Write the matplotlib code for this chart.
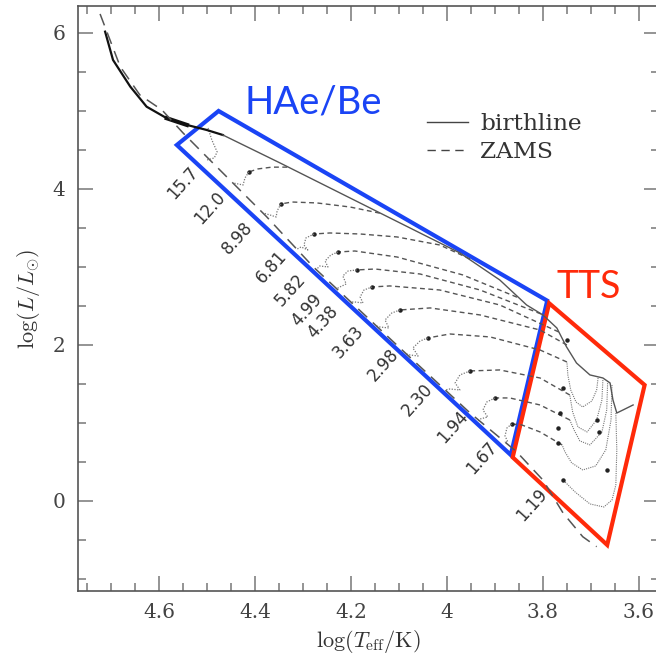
import numpy as np
import matplotlib.pyplot as plt
from matplotlib.ticker import MultipleLocator

plt.rcParams['mathtext.fontset'] = 'cm'

# birthline and ZAMS (log Teff, log L)
birth_T = [4.7125, 4.696, 4.660, 4.626, 4.584, 4.542, 4.501, 4.467, 4.348, 4.140,
           3.973, 3.890, 3.834, 3.800, 3.771, 3.751, 3.730, 3.702, 3.675, 3.660,
           3.654, 3.646, 3.633, 3.612]
birth_L = [6.013, 5.65, 5.308, 5.051, 4.903, 4.817, 4.753, 4.688, 4.33, 3.69,
           3.176, 2.83, 2.509, 2.381, 2.214, 1.974, 1.765, 1.612, 1.573, 1.509,
           1.291, 1.124, 1.163, 1.227]
zams_T = [4.723, 4.681, 4.640, 4.594, 4.550, 4.501, 4.376, 4.279, 4.098, 3.952,
          3.855, 3.800, 3.758, 3.717, 3.688]
zams_L = [6.24, 5.564, 5.201, 5.009, 4.714, 4.41, 3.641, 3.0, 1.958, 1.125,
          0.628, 0.265, -0.158, -0.462, -0.590]

masses = ['15.7', '12.0', '8.98', '6.81', '5.82', '4.99', '4.38', '3.63',
          '2.98', '2.30', '1.94', '1.67', '1.19']
label_T = [4.55, 4.494, 4.4375, 4.365, 4.327, 4.292, 4.258, 4.206,
           4.133, 4.0625, 3.9875, 3.927, 3.823]
label_L = [4.073, 3.753, 3.368, 2.996, 2.701, 2.445, 2.291, 2.035,
           1.740, 1.291, 0.945, 0.548, -0.055]

# convective (Hayashi) part, dotted
hay_T = [[], [], [], [], [], [], [], [],
         [3.685, 3.688, 3.698, 3.717, 3.731, 3.742, 3.748, 3.750],
         [3.675, 3.677, 3.688, 3.708, 3.727, 3.738, 3.744],
         [3.665, 3.667, 3.677, 3.702, 3.723, 3.735, 3.744],
         [3.656, 3.658, 3.669, 3.690, 3.717, 3.740, 3.754, 3.760],
         [3.648, 3.646, 3.648, 3.656, 3.673, 3.702, 3.733, 3.758]]
hay_L = [[], [], [], [], [], [], [], [],
         [1.573, 1.419, 1.278, 1.201, 1.265, 1.419, 1.611, 1.778],
         [1.547, 1.291, 1.035, 0.881, 0.945, 1.137, 1.355],
         [1.535, 1.163, 0.881, 0.715, 0.766, 0.906, 1.035],
         [1.483, 1.035, 0.651, 0.445, 0.394, 0.484, 0.625, 0.715],
         [1.124, 0.650, 0.201, 0.009, -0.081, -0.042, 0.112, 0.265]]
# radiative (Henyey) part, dashed
hen_T = [[],
         [4.333, 4.365, 4.394, 4.413],
         [4.140, 4.202, 4.271, 4.323, 4.346],
         [3.952, 4.015, 4.104, 4.181, 4.244, 4.277],
         [3.854, 3.967, 4.104, 4.192, 4.227],
         [3.804, 3.931, 4.056, 4.150, 4.188],
         [3.767, 3.890, 4.015, 4.119, 4.156],
         [3.750, 3.806, 3.931, 4.035, 4.098],
         [3.750, 3.806, 3.910, 3.994, 4.040],
         [3.744, 3.806, 3.890, 3.952],
         [3.744, 3.806, 3.869, 3.900],
         [3.760, 3.806, 3.844, 3.865],
         []]
hen_L = [[],
         [4.276, 4.276, 4.253, 4.214],
         [3.686, 3.765, 3.817, 3.829, 3.804],
         [3.099, 3.278, 3.381, 3.419, 3.432, 3.419],
         [2.609, 2.894, 3.124, 3.201, 3.188],
         [2.394, 2.701, 2.906, 2.970, 2.958],
         [2.163, 2.509, 2.701, 2.753, 2.740],
         [1.996, 2.188, 2.381, 2.471, 2.445],
         [1.778, 1.932, 2.099, 2.137, 2.086],
         [1.355, 1.573, 1.676, 1.663],
         [1.035, 1.227, 1.317, 1.317],
         [0.715, 0.881, 0.971, 0.983],
         []]
# hook onto the ZAMS, dotted
hook_T = [[4.498, 4.490, 4.479, 4.485, 4.500],
          [4.413, 4.421, 4.425, 4.435, 4.446],
          [4.346, 4.354, 4.356, 4.369, 4.383],
          [4.277, 4.294, 4.298, 4.290, 4.304, 4.312],
          [4.227, 4.242, 4.254, 4.248, 4.265, 4.273],
          [4.188, 4.206, 4.217, 4.210, 4.223, 4.231],
          [4.156, 4.173, 4.181, 4.175, 4.192, 4.200],
          [4.098, 4.115, 4.129, 4.121, 4.140, 4.148],
          [4.040, 4.056, 4.071, 4.060, 4.077, 4.085],
          [3.952, 3.973, 3.983, 3.973, 3.994, 4.004],
          [3.900, 3.917, 3.925, 3.915, 3.931, 3.935],
          [3.865, 3.875, 3.879, 3.873, 3.881],
          []]
hook_L = [[4.778, 4.624, 4.471, 4.394, 4.368],
          [4.214, 4.137, 4.047, 4.060, 4.073],
          [3.804, 3.714, 3.637, 3.663, 3.688],
          [3.419, 3.368, 3.278, 3.214, 3.253, 3.227],
          [3.188, 3.150, 3.073, 2.996, 3.009, 2.958],
          [2.958, 2.945, 2.881, 2.778, 2.740, 2.714],
          [2.740, 2.701, 2.612, 2.535, 2.547, 2.547],
          [2.445, 2.406, 2.317, 2.214, 2.227, 2.240],
          [2.086, 2.047, 1.958, 1.855, 1.868, 1.881],
          [1.663, 1.612, 1.509, 1.419, 1.432, 1.419],
          [1.317, 1.265, 1.163, 1.073, 1.047, 1.022],
          [0.983, 0.932, 0.830, 0.753, 0.753],
          []]
# isochrone dots in the T Tauri region
dot_T = [3.750, 3.758, 3.765, 3.769, 3.769, 3.758, 3.688, 3.683, 3.667]
dot_L = [2.06, 1.445, 1.124, 0.932, 0.740, 0.265, 1.035, 0.881, 0.394]

# regions
haebe_T = [4.563, 4.476, 3.791, 3.867]
haebe_L = [4.560, 4.996, 2.564, 0.586]
tts_T = [3.787, 3.588, 3.666, 3.863]
tts_L = [2.531, 1.483, -0.568, 0.556]

fig = plt.figure(figsize=(6.56, 6.59), dpi=100)
ax = fig.add_axes([0.1189, 0.1032, 0.8857, 0.8877])

grey = '#555555'
for i in range(len(masses)):
    if hay_T[i]:
        ax.plot(hay_T[i], hay_L[i], color='#777777', lw=0.8, ls=(0, (1, 1)))
    if hen_T[i]:
        ax.plot(hen_T[i], hen_L[i], color=grey, lw=1.0, ls=(0, (3.5, 2.5)))
        ax.plot(hen_T[i][-1], hen_L[i][-1], 'o', color='#222222', ms=2.2)
    if hook_T[i]:
        ax.plot(hook_T[i], hook_L[i], color='#777777', lw=0.9, ls=(0, (1, 1.2)))
    ax.text(label_T[i], label_L[i], masses[i], rotation=48, ha='center',
            va='center', fontsize=12, color='#333333', family='DejaVu Sans')
ax.plot(dot_T, dot_L, 'o', color='#222222', ms=2.2, ls='none')

ax.plot(birth_T[:8], birth_L[:8], color='#111111', lw=1.6)
ax.plot(birth_T[4:6], birth_L[4:6], color='#111111', lw=3.0)
ax.plot(birth_T[7:], birth_L[7:], color='#555555', lw=1.0)
ax.plot(zams_T, zams_L, color='#555555', lw=1.1, ls=(0, (8, 5)))

ax.fill(haebe_T, haebe_L, fill=False, edgecolor='#1a44f5', lw=3.0, joinstyle='miter')
ax.fill(tts_T, tts_L, fill=False, edgecolor='#ff2a0a', lw=3.0, joinstyle='miter')
ax.text(4.421, 4.97, 'HAe/Be', color='#1a44f5', fontsize=27.5, family='Lato',
        va='baseline')
ax.text(3.771, 2.60, 'TTS', color='#ff2a0a', fontsize=27, family='Lato',
        va='baseline')

# legend
ax.plot([], [], color='#444444', lw=1.0, label='birthline')
ax.plot([], [], color='#444444', lw=1.0, ls=(0, (6, 4)), label='ZAMS')
ax.legend(loc='upper left', bbox_to_anchor=(0.573, 0.845), frameon=False,
          prop={'family': 'DejaVu Serif', 'size': 16.8}, handlelength=1.75,
          handletextpad=0.52, labelspacing=0.25, labelcolor='#333333',
          borderaxespad=0.3)

ax.set_xlim(4.769, 3.558)
ax.set_ylim(-1.158, 6.342)
ax.xaxis.set_major_locator(MultipleLocator(0.2))
ax.xaxis.set_minor_locator(MultipleLocator(0.05))
ax.yaxis.set_major_locator(MultipleLocator(2))
ax.yaxis.set_minor_locator(MultipleLocator(0.5))
ax.set_xticks([4.6, 4.4, 4.2, 4.0, 3.8, 3.6])
ax.set_xticklabels(['4.6', '4.4', '4.2', '4', '3.8', '3.6'])
ax.tick_params(which='both', direction='in', top=True, right=True,
               color='#777777', width=1.1)
ax.tick_params(which='major', length=10.5, pad=9, labelsize=14.5, labelcolor='#444444')
ax.tick_params(which='minor', length=5.5)
for lab in ax.get_xticklabels() + ax.get_yticklabels():
    lab.set_family('DejaVu Serif')
for s in ax.spines.values():
    s.set_color('#555555')
    s.set_linewidth(1.2)

ax.set_xlabel(r'$\log(T_{\rm eff}/{\rm K})$', fontsize=16, color='#333333', labelpad=4)
ax.set_ylabel(r'$\log(L/L_{\odot})$', fontsize=16, color='#333333', labelpad=8)

fig.savefig('out.png', dpi=100)
